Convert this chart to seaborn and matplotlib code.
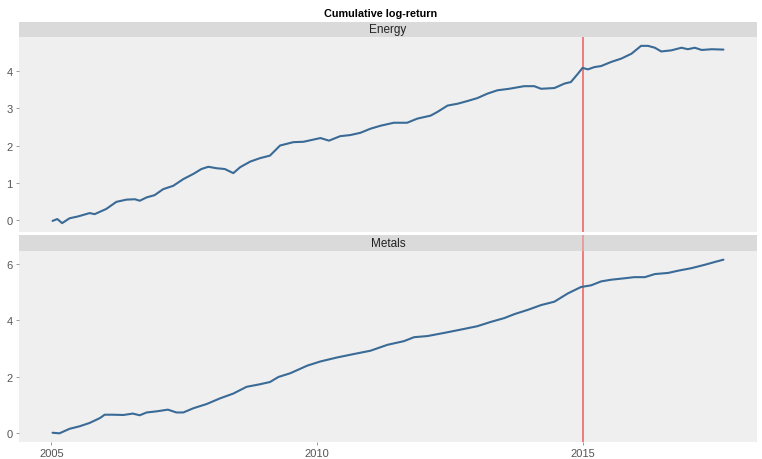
import numpy as np
import pandas as pd
import matplotlib
matplotlib.use("Agg")
import matplotlib.pyplot as plt
import seaborn as sns

title = "Cumulative log-return"
panels = ["Energy", "Metals"]
x_ticks = [2005, 2010, 2015]
vline_year = 2015.0

energy_years = [2005.02, 2005.11, 2005.20, 2005.34, 2005.50, 2005.72, 2005.81, 2006.03, 2006.22,
                2006.41, 2006.57, 2006.66, 2006.79, 2006.94, 2007.10, 2007.29, 2007.48, 2007.67,
                2007.82, 2007.95, 2008.11, 2008.26, 2008.42, 2008.55, 2008.74, 2008.92, 2009.11,
                2009.30, 2009.55, 2009.74, 2010.06, 2010.22, 2010.43, 2010.62, 2010.81, 2011.00,
                2011.19, 2011.44, 2011.69, 2011.88, 2012.13, 2012.26, 2012.45, 2012.64, 2012.82,
                2013.01, 2013.20, 2013.39, 2013.61, 2013.89, 2014.08, 2014.21, 2014.46, 2014.65,
                2014.77, 2014.90, 2014.99, 2015.09, 2015.21, 2015.34, 2015.53, 2015.72, 2015.91,
                2016.09, 2016.22, 2016.35, 2016.47, 2016.66, 2016.85, 2016.97, 2017.10, 2017.23,
                2017.42, 2017.64]
energy_vals = [-0.02, 0.03, -0.08, 0.05, 0.10, 0.19, 0.16, 0.30, 0.49,
               0.55, 0.56, 0.52, 0.61, 0.67, 0.83, 0.92, 1.10, 1.24,
               1.37, 1.43, 1.39, 1.37, 1.26, 1.42, 1.57, 1.66, 1.73,
               2.00, 2.09, 2.10, 2.20, 2.13, 2.25, 2.28, 2.34, 2.45,
               2.53, 2.61, 2.61, 2.72, 2.80, 2.90, 3.07, 3.12, 3.19,
               3.27, 3.39, 3.48, 3.52, 3.59, 3.59, 3.52, 3.54, 3.66,
               3.70, 3.92, 4.08, 4.04, 4.10, 4.13, 4.24, 4.33, 4.46,
               4.67, 4.67, 4.62, 4.52, 4.55, 4.62, 4.58, 4.62, 4.56,
               4.58, 4.57]

metals_years = [2005.02, 2005.15, 2005.34, 2005.53, 2005.72, 2005.91, 2006.00, 2006.16, 2006.35,
                2006.53, 2006.66, 2006.79, 2006.98, 2007.19, 2007.35, 2007.48, 2007.67, 2007.92,
                2008.17, 2008.42, 2008.67, 2008.92, 2009.11, 2009.27, 2009.49, 2009.81, 2010.06,
                2010.37, 2010.68, 2011.00, 2011.32, 2011.63, 2011.82, 2012.07, 2012.38, 2012.70,
                2013.01, 2013.26, 2013.52, 2013.71, 2013.96, 2014.21, 2014.46, 2014.71, 2014.96,
                2015.15, 2015.34, 2015.53, 2015.78, 2015.96, 2016.16, 2016.35, 2016.60, 2016.79,
                2017.04, 2017.29, 2017.48, 2017.64]
metals_vals = [0.01, -0.01, 0.15, 0.24, 0.36, 0.53, 0.65, 0.65, 0.64,
               0.69, 0.63, 0.73, 0.77, 0.83, 0.73, 0.73, 0.88, 1.03,
               1.23, 1.40, 1.64, 1.73, 1.81, 1.99, 2.12, 2.39, 2.54,
               2.68, 2.80, 2.92, 3.13, 3.26, 3.40, 3.44, 3.55, 3.67,
               3.79, 3.94, 4.08, 4.22, 4.37, 4.54, 4.66, 4.95, 5.18,
               5.24, 5.38, 5.44, 5.49, 5.53, 5.53, 5.64, 5.68, 5.76,
               5.85, 5.97, 6.07, 6.15]

energy_ticks = [0, 1, 2, 3, 4]
metals_ticks = [0, 2, 4, 6]

df = pd.concat([
    pd.DataFrame({"year": energy_years, "value": energy_vals, "sector": "Energy"}),
    pd.DataFrame({"year": metals_years, "value": metals_vals, "sector": "Metals"}),
], ignore_index=True)

sns.set_theme(style="white")
plt.rcParams["font.family"] = ["Liberation Sans", "DejaVu Sans"]

W, H = 762, 460
fig = plt.figure(figsize=(W / 100, H / 100), dpi=100)
fig.patch.set_facecolor("white")

def frac(x0, y0, x1, y1):
    return [x0 / W, 1 - y1 / H, (x1 - x0) / W, (y1 - y0) / H]

panel_boxes = {"Energy": (19, 38, 757, 233), "Metals": (19, 252, 757, 443)}
strip_boxes = {"Energy": (19, 23, 757, 38), "Metals": (19, 236, 757, 252)}
yticks = {"Energy": energy_ticks, "Metals": metals_ticks}

xmin, xmax = df["year"].min(), df["year"].max()
xr = xmax - xmin
xlim = (xmin - 0.05 * xr, xmax + 0.05 * xr)
red = "#F25C5C"

for name in panels:
    sub = df[df["sector"] == name]
    ax = fig.add_axes(frac(*panel_boxes[name]))
    ax.set_facecolor("#EFEFEF")
    sns.lineplot(data=sub, x="year", y="value", ax=ax, color="#3A6A96", linewidth=1.5)
    ax.axvline(vline_year, color=red, linewidth=1.1, zorder=1)
    ymin, ymax = sub["value"].min(), sub["value"].max()
    yr = ymax - ymin
    ax.set_ylim(ymin - 0.05 * yr, ymax + 0.05 * yr)
    ax.set_xlim(*xlim)
    ax.set_yticks(yticks[name])
    ax.set_yticklabels([str(t) for t in yticks[name]])
    ax.set_xticks(x_ticks)
    if name == "Metals":
        ax.set_xticklabels([str(t) for t in x_ticks])
    else:
        ax.set_xticklabels([])
        ax.tick_params(axis="x", length=0)
    ax.grid(False)
    ax.set_xlabel("")
    ax.set_ylabel("")
    for s in ax.spines.values():
        s.set_visible(False)
    ax.tick_params(axis="both", labelsize=8, colors="#888888", labelcolor="#555555",
                   length=2.5, width=0.6, pad=2, left=True, bottom=(name == "Metals"))

    sax = fig.add_axes(frac(*strip_boxes[name]))
    sax.set_facecolor("#DADADA")
    sax.set_xlim(*xlim)
    if name == "Metals":
        sax.axvline(vline_year, color=red, linewidth=1.1, alpha=0.6)
    sax.set_xticks([])
    sax.set_yticks([])
    for s in sax.spines.values():
        s.set_visible(False)
    sax.text(0.5, 0.5, name, ha="center", va="center", fontsize=8.5, color="#222222",
             transform=sax.transAxes)

fig.text(0.5, 1 - 14 / H, title, ha="center", va="center", fontsize=7.8,
         fontweight="bold", color="black")

fig.savefig("out.png", dpi=100, facecolor="white")
